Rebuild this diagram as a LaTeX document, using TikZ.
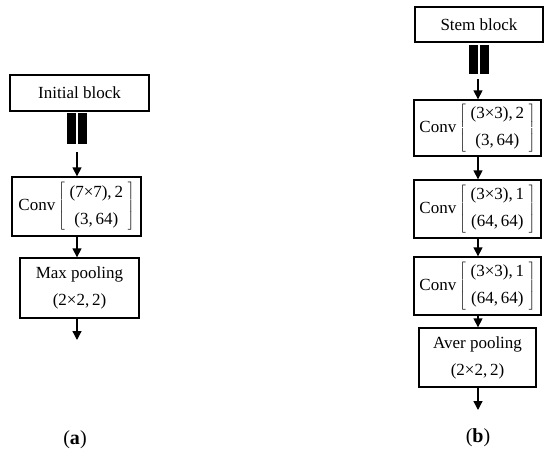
\documentclass[tikz,border=0pt]{standalone}
\usepackage{fontspec}
\setmainfont{Liberation Serif}
\usetikzlibrary{arrows.meta}
\newcommand{\cvm}[2]{Conv\,$\left[\;\vcenter{\hbox{\fontsize{17}{20}\selectfont\begin{tabular}{@{}c@{}}#1\\[7pt]#2\end{tabular}}}\;\right]$}
\begin{document}
\begin{tikzpicture}[x=1pt,y=-1pt,
  box/.style={draw,line width=1.3pt,inner sep=0pt,align=center,font=\fontsize{17}{27}\selectfont},
  bar/.style={fill=black,draw=none},
  arr/.style={line width=1.3pt,-{Triangle[width=9pt,length=9pt]}},
  lab/.style={font=\fontsize{20}{22}\selectfont}]
\useasboundingbox (0,0) rectangle (550,455);
% ---------- (a) ----------
\node[box,minimum width=139,minimum height=36] (init) at (79.5,93) {Initial block};
\fill[bar] (67,113) rectangle (76,144);
\fill[bar] (78,113) rectangle (87,144);
\coordinate (ainA) at (77,152);
\node[box,minimum width=129,minimum height=59] (convA) at (76.5,206.5) {\cvm{(7×7),\,2}{(3,\,64)}};
\node[box,minimum width=119,minimum height=60] (poolA) at (79.5,288) {Max pooling\\(2×2,\,2)};
\coordinate (aoutA) at (77,340);
\draw[arr] (ainA) -- (ainA |- convA.north);
\draw[arr] (ainA |- convA.south) -- (ainA |- poolA.north);
\draw[arr] (aoutA |- poolA.south) -- (aoutA);
\node[lab] (la) at (75,440) {(\textbf{a})};
% ---------- (b) ----------
\node[box,minimum width=128,minimum height=35] (stem) at (479,24.5) {Stem block};
\fill[bar] (469,45) rectangle (478,74);
\fill[bar] (480,45) rectangle (489,74);
\coordinate (ainB) at (478,79);
\node[box,minimum width=127,minimum height=56] (c1) at (477.5,128) {\cvm{(3×3),\,2}{(3,\,64)}};
\node[box,minimum width=127,minimum height=58] (c2) at (477.5,209) {\cvm{(3×3),\,1}{(64,\,64)}};
\node[box,minimum width=127,minimum height=58] (c3) at (477.5,286) {\cvm{(3×3),\,1}{(64,\,64)}};
\node[box,minimum width=117,minimum height=59] (aver) at (477.5,357.5) {Aver pooling\\(2×2,\,2)};
\coordinate (aoutB) at (478,410);
\draw[arr] (ainB) -- (ainB |- c1.north);
\draw[arr] (ainB |- c1.south) -- (ainB |- c2.north);
\draw[arr] (ainB |- c2.south) -- (ainB |- c3.north);
\draw[arr] (ainB |- c3.south) -- (ainB |- aver.north);
\draw[arr] (aoutB |- aver.south) -- (aoutB);
\node[lab] (lb) at (478,438) {(\textbf{b})};
\end{tikzpicture}
\end{document}
